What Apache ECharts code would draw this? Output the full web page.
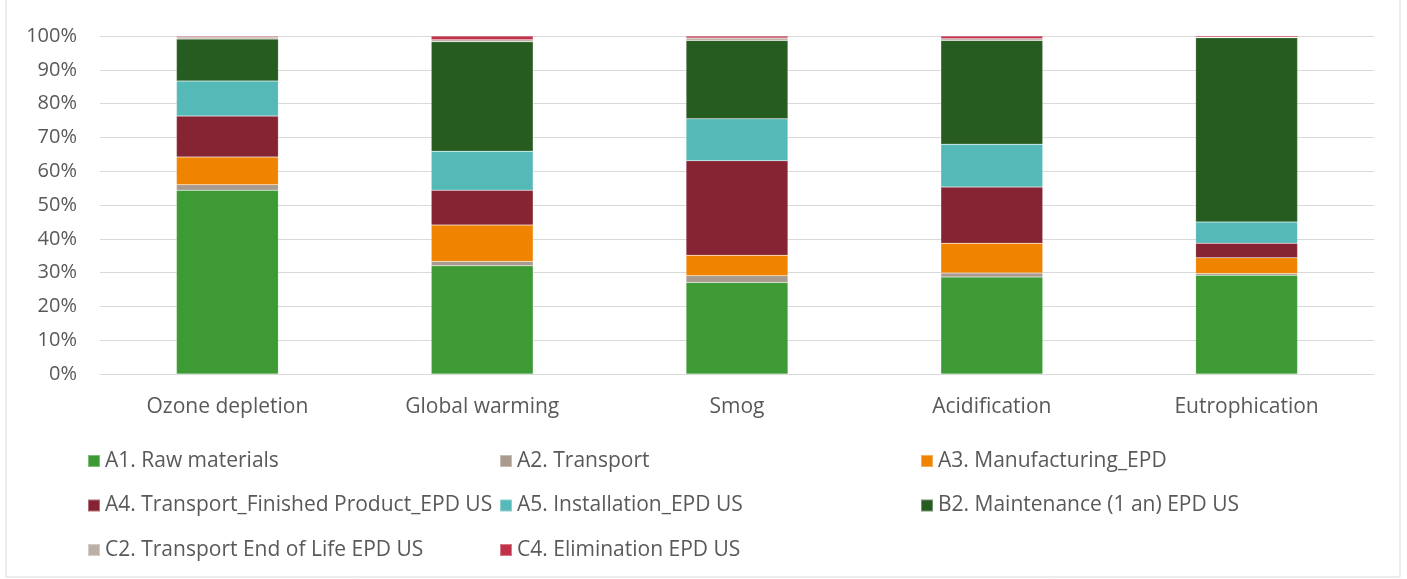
<!DOCTYPE html>
<html>
<head>
<meta charset="utf-8">
<script src="https://cdn.jsdelivr.net/npm/echarts@6/dist/echarts.min.js"></script>
<style>html,body{margin:0;padding:0;background:#fff}#c{width:1407px;height:579px}</style>
</head>
<body>
<div id="c"></div>
<script>
const categories = ['Ozone depletion', 'Global warming', 'Smog', 'Acidification', 'Eutrophication'];
const yTicks = ['0%', '10%', '20%', '30%', '40%', '50%', '60%', '70%', '80%', '90%', '100%'];
const seriesNames = ['A1. Raw materials', 'A2. Transport', 'A3. Manufacturing_EPD',
  'A4. Transport_Finished Product_EPD US', 'A5. Installation_EPD US', 'B2. Maintenance (1 an) EPD US',
  'C2. Transport End of Life EPD US', 'C4. Elimination EPD US'];
const a1 = [54.4, 32.0, 27.1, 28.7, 29.2];
const a2 = [1.6, 1.3, 2.0, 1.2, 0.5];
const a3 = [8.2, 10.8, 6.0, 8.8, 4.7];
const a4 = [12.1, 10.3, 28.0, 16.6, 4.3];
const a5 = [10.4, 11.5, 12.4, 12.7, 6.3];
const b2 = [12.4, 32.4, 23.2, 30.7, 54.5];
const c2 = [0.6, 0.6, 0.7, 0.5, 0.1];
const c4 = [0.3, 1.1, 0.6, 0.8, 0.4];
const seriesValues = [a1, a2, a3, a4, a5, b2, c2, c4];
const colors = ['#3d9a35', '#a89a8e', '#f08300', '#862433', '#55b9b7', '#265c20', '#bcb0a6', '#c0324a'];

const font = '"Open Sans", sans-serif';
const txt = '#595959';

const chart = echarts.init(document.getElementById('c'));
const legendBase = {
  orient: 'vertical', top: 445.5, itemWidth: 12, itemHeight: 12, itemGap: 23.5,
  icon: 'rect', textStyle: { fontSize: 21, color: txt, fontFamily: font }, selectedMode: false
};
chart.setOption({
  animation: false,
  color: colors,
  graphic: [{ type: 'rect', shape: { x: 6, y: -2, width: 1394, height: 579 }, style: { fill: 'none', stroke: '#d9d9d9', lineWidth: 1 } }],
  grid: { left: 100, right: 33, top: 36, bottom: 205 },
  legend: [
    Object.assign({}, legendBase, { left: 82, data: [seriesNames[0], seriesNames[3], seriesNames[6]] }),
    Object.assign({}, legendBase, { left: 494, data: [seriesNames[1], seriesNames[4], seriesNames[7]] }),
    Object.assign({}, legendBase, { left: 915, data: [seriesNames[2], seriesNames[5]] })
  ],
  xAxis: {
    type: 'category', data: categories,
    axisLine: { lineStyle: { color: '#d9d9d9' } }, axisTick: { show: false },
    axisLabel: { fontSize: 21, color: txt, fontFamily: font, margin: 23 }
  },
  yAxis: {
    type: 'value', min: 0, max: 100, interval: 10,
    axisLabel: { fontSize: 20, color: txt, fontFamily: font, margin: 23,
      formatter: v => yTicks[Math.round(v / 10)] },
    splitLine: { lineStyle: { color: '#d9d9d9' } },
    axisLine: { show: false }, axisTick: { show: false }
  },
  series: seriesNames.map((n, i) => ({
    name: n, type: 'bar', stack: 'total', barWidth: '40%',
    data: seriesValues[i],
    itemStyle: { borderColor: 'rgba(255,255,255,0.35)', borderWidth: 0.5 }
  }))
});
</script>
</body>
</html>
